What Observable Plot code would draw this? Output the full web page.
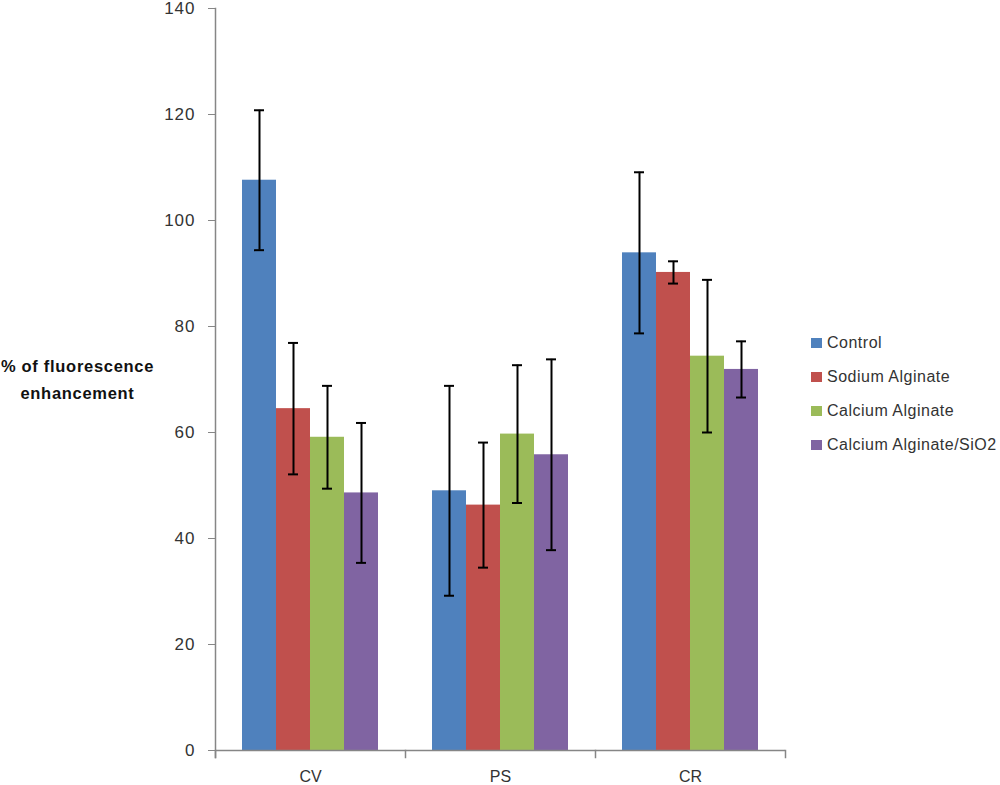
<!DOCTYPE html>
<html>
<head>
<meta charset="utf-8">
<script src="https://cdn.jsdelivr.net/npm/d3@7"></script>
<script src="https://cdn.jsdelivr.net/npm/@observablehq/plot@0.6"></script>
<style>
  body { margin: 0; background: #fff; }
  #wrap { position: relative; width: 1000px; height: 785px; font-family: "Liberation Sans", Arial, sans-serif; }
  #wrap svg { position: absolute; left: 0; top: 0; }
  #wrap svg g[aria-label="y-axis tick label"] text { letter-spacing: 1px; }
  #ytitle { position: absolute; left: 0; top: 353px; width: 155px; text-align: center;
            font-weight: bold; font-size: 16.5px; line-height: 27px; letter-spacing: 0.7px; color: #111; }
  #legend { position: absolute; left: 811px; top: 326px; font-size: 16px; letter-spacing: 0.5px; color: #333; }
  #legend .row { display: flex; align-items: center; height: 34px; white-space: nowrap; }
  #legend .sw { width: 11px; height: 10px; margin-right: 5px; }
</style>
</head>
<body>
<div id="wrap"></div>
<script>
const categories = ["CV", "PS", "CR"];
const series = ["Control", "Sodium Alginate", "Calcium Alginate", "Calcium Alginate/SiO2"];
const control = [107.6, 49.0, 93.9];
const controlErr = [13.2, 19.8, 15.2];
const sodiumAlginate = [64.5, 46.3, 90.2];
const sodiumAlginateErr = [12.4, 11.8, 2.1];
const calciumAlginate = [59.1, 59.7, 74.4];
const calciumAlginateErr = [9.7, 13.0, 14.4];
const calciumAlginateSiO2 = [48.6, 55.8, 71.9];
const calciumAlginateSiO2Err = [13.2, 18.0, 5.3];
const colors = ["#4F81BD", "#C0504D", "#9BBB59", "#8064A2"];
const yTicks = [0, 20, 40, 60, 80, 100, 120, 140];
const yTitle = ["% of fluorescence", "enhancement"];

const values = [control, sodiumAlginate, calciumAlginate, calciumAlginateSiO2];
const errors = [controlErr, sodiumAlginateErr, calciumAlginateErr, calciumAlginateSiO2Err];
const rows = [];
categories.forEach((c, ci) => {
  series.forEach((s, si) => {
    rows.push({category: c, series: s, value: values[si][ci], err: errors[si][ci]});
  });
});

const W = 1000, H = 785, mt = 8, mb = 35, ml = 215, mr = 215;
const axisColor = "#868686";

const plot = Plot.plot({
  width: W, height: H,
  marginTop: mt, marginBottom: mb, marginLeft: ml, marginRight: mr,
  style: {fontFamily: '"Liberation Sans", Arial, sans-serif', fontSize: "16px", color: "#333", background: "white"},
  fx: {domain: categories, padding: 0, label: null, axis: null},
  x: {domain: series, paddingInner: 0, paddingOuter: 0.773, axis: null},
  y: {domain: [0, 140], axis: null},
  color: {domain: series, range: colors},
  marks: [
    Plot.barY(rows, {fx: "category", x: "series", y: "value", fill: "series"}),
    Plot.ruleX(rows, {fx: "category", x: "series", y1: d => d.value - d.err, y2: d => d.value + d.err, stroke: "black", strokeWidth: 2}),
    Plot.tickY(rows, {fx: "category", x: "series", y: d => d.value - d.err, stroke: "black", strokeWidth: 2, insetLeft: 12, insetRight: 12}),
    Plot.tickY(rows, {fx: "category", x: "series", y: d => d.value + d.err, stroke: "black", strokeWidth: 2, insetLeft: 12, insetRight: 12}),
    Plot.ruleY([0], {stroke: axisColor, strokeWidth: 1.5}),
    Plot.frame({anchor: "left", facetAnchor: "left", stroke: axisColor, strokeWidth: 1.5, insetBottom: -7}),
    Plot.frame({anchor: "left", stroke: axisColor, strokeWidth: 1.5, insetTop: H - mt - mb, insetBottom: -7}),
    Plot.frame({anchor: "right", facetAnchor: "right", stroke: axisColor, strokeWidth: 1.5, insetTop: H - mt - mb, insetBottom: -7}),
    Plot.axisY({ticks: yTicks, tickSize: 7, tickPadding: 13, stroke: axisColor, fill: "#333", fontSize: 17, label: null, tickFormat: d => String(d)}),
    Plot.axisFx({anchor: "bottom", tickSize: 0, tickPadding: 20, fill: "#333", fontSize: 16, label: null})
  ]
});

const wrap = d3.select("#wrap");
wrap.node().appendChild(plot);

const title = wrap.append("div").attr("id", "ytitle");
yTitle.forEach(t => title.append("div").text(t));

const colorScale = plot.scale("color");
const legend = wrap.append("div").attr("id", "legend");
series.forEach(s => {
  const row = legend.append("div").attr("class", "row");
  row.append("div").attr("class", "sw").style("background", colorScale.apply(s));
  row.append("span").text(s);
});
</script>
</body>
</html>
